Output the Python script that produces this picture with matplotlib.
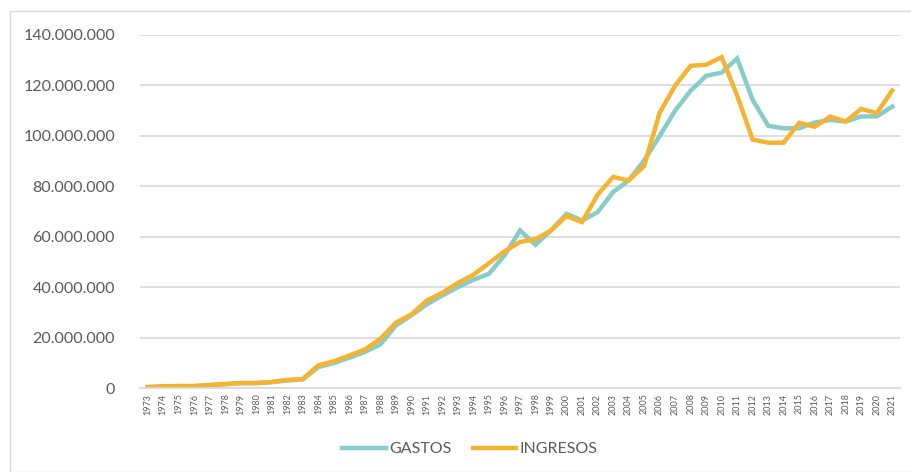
import matplotlib.pyplot as plt
from matplotlib.ticker import FuncFormatter
from matplotlib.patches import Rectangle

# datos (millones)
years = list(range(1973, 2022))
gastos = [0.3, 0.6, 0.7, 0.7, 1.1, 1.5, 1.9, 1.9, 2.3, 3.0, 3.4,
          8.3, 9.9, 12.0, 14.3, 17.3, 24.8, 28.8, 33.2, 36.7, 40.0,
          42.9, 45.3, 52.6, 62.5, 56.8, 62.5, 69.1, 66.4, 69.7, 77.7,
          82.3, 90.2, 99.9, 110.0, 117.9, 123.8, 125.1, 130.7, 114.3, 104.0,
          103.0, 103.0, 105.3, 106.3, 105.7, 107.7, 107.7, 111.6]
ingresos = [0.4, 0.7, 0.8, 0.8, 1.2, 1.6, 2.0, 2.0, 2.4, 3.2, 3.6,
            9.0, 10.6, 12.9, 15.3, 19.5, 25.9, 29.2, 34.7, 37.8, 41.7,
            44.9, 49.5, 54.2, 57.9, 59.0, 62.5, 68.2, 65.8, 76.6, 83.7,
            82.3, 88.0, 109.1, 119.9, 127.8, 128.2, 131.2, 116.0, 98.5, 97.3,
            97.3, 105.2, 103.6, 107.6, 105.7, 110.7, 109.0, 118.0]

teal = '#86CDC9'
orange = '#F5B331'
grey_txt = '#595959'

plt.rcParams['font.family'] = ['Lato', 'DejaVu Sans']

fig = plt.figure(figsize=(9.11, 4.72), dpi=100)
fig.patches.append(Rectangle((10/911, 0), 1, 1 - 11/472, transform=fig.transFigure,
                             fill=False, edgecolor='#D9D9D9', linewidth=1))
ax = fig.add_axes([140/911, 1 - 388/472, 760/911, 353/472])

g = [v * 1e6 for v in gastos]
i = [v * 1e6 for v in ingresos]
ax.plot(years, g, color=teal, linewidth=3.2, label='GASTOS', solid_joinstyle='miter')
ax.plot(years, i, color=orange, linewidth=3.2, label='INGRESOS', solid_joinstyle='miter')

ax.set_xlim(1972.5, 2021.5)
ax.set_ylim(0, 140e6)
ax.set_yticks([k * 20e6 for k in range(8)])
ax.yaxis.set_major_formatter(FuncFormatter(lambda v, p: f"{int(v):,}".replace(',', '.')))
ax.set_xticks(years)
ax.set_xticklabels([str(y) for y in years], rotation=90, fontsize=6.5, color=grey_txt)
ax.tick_params(axis='y', labelsize=11.5, labelcolor=grey_txt, length=0, pad=18)
ax.tick_params(axis='x', length=0, pad=4)
ax.grid(axis='y', color='#D9D9D9', linewidth=1.2)
ax.set_axisbelow(True)
for s in ['top', 'right', 'left']:
    ax.spines[s].set_visible(False)
ax.spines['bottom'].set_color('#D9D9D9')
ax.spines['bottom'].set_linewidth(1.2)

leg = fig.legend(loc='center', bbox_to_anchor=(470/911, 1 - 449/472), ncol=2, frameon=False,
                 fontsize=11.5, handlelength=2.7, handletextpad=0.2, columnspacing=1.4)
for t in leg.get_texts():
    t.set_color(grey_txt)

fig.savefig('out.png', dpi=100)
